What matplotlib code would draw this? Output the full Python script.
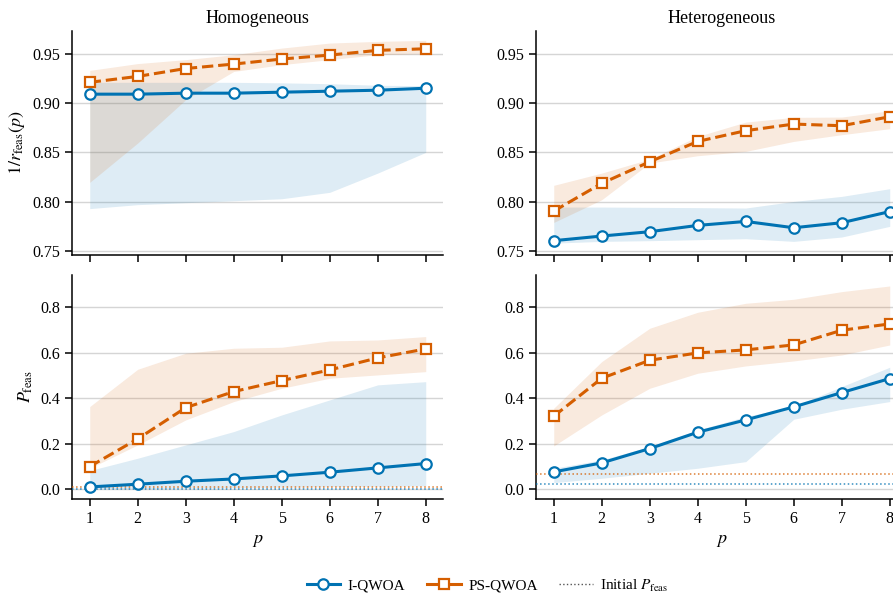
import matplotlib
matplotlib.use('Agg')
import matplotlib.pyplot as plt
from matplotlib.lines import Line2D
import numpy as np

plt.rcParams['font.family'] = 'Liberation Serif'
plt.rcParams['mathtext.fontset'] = 'stix'

p = np.arange(1, 9)

# ---------------- 1/r_feas(p) ----------------
hom_r_iq = [0.909, 0.909, 0.910, 0.910, 0.911, 0.912, 0.913, 0.915]
hom_r_iq_lo = [0.793, 0.797, 0.799, 0.801, 0.803, 0.8095, 0.829, 0.850]
hom_r_iq_hi = [0.921, 0.921, 0.921, 0.921, 0.9205, 0.9196, 0.918, 0.9176]
hom_r_ps = [0.921, 0.927, 0.935, 0.9395, 0.9446, 0.9486, 0.9534, 0.955]
hom_r_ps_lo = [0.8196, 0.8595, 0.9034, 0.932, 0.9389, 0.944, 0.949, 0.950]
hom_r_ps_hi = [0.9331, 0.940, 0.944, 0.949, 0.9557, 0.9608, 0.9625, 0.9635]

het_r_iq = [0.7605, 0.7652, 0.7696, 0.776, 0.780, 0.7736, 0.7787, 0.790]
het_r_iq_lo = [0.758, 0.7598, 0.7605, 0.7615, 0.7625, 0.7598, 0.7642, 0.775]
het_r_iq_hi = [0.7946, 0.7946, 0.7943, 0.794, 0.7936, 0.8003, 0.8054, 0.8132]
het_r_ps = [0.7905, 0.8186, 0.8405, 0.8611, 0.872, 0.8787, 0.877, 0.8861]
het_r_ps_lo = [0.779, 0.802, 0.8392, 0.8466, 0.851, 0.8611, 0.8679, 0.874]
het_r_ps_hi = [0.8166, 0.829, 0.8432, 0.8662, 0.8807, 0.8855, 0.8858, 0.8922]

# ---------------- P_feas ----------------
hom_p_iq = [0.010, 0.022, 0.035, 0.045, 0.0585, 0.0746, 0.0936, 0.1126]
hom_p_iq_lo = [0.001, 0.003, 0.005, 0.007, 0.009, 0.011, 0.013, 0.015]
hom_p_iq_hi = [0.082, 0.136, 0.1945, 0.253, 0.326, 0.392, 0.458, 0.472]
hom_p_ps = [0.0995, 0.221, 0.358, 0.4285, 0.4768, 0.5236, 0.5763, 0.6157]
hom_p_ps_lo = [0.092, 0.1945, 0.304, 0.3846, 0.443, 0.487, 0.5016, 0.516]
hom_p_ps_hi = [0.3627, 0.5265, 0.5968, 0.6187, 0.6231, 0.6508, 0.655, 0.670]

het_p_iq = [0.076, 0.1155, 0.1784, 0.2501, 0.3042, 0.3612, 0.4241, 0.4856]
het_p_iq_lo = [0.029, 0.048, 0.070, 0.092, 0.121, 0.307, 0.351, 0.3846]
het_p_iq_hi = [0.0921, 0.1287, 0.187, 0.260, 0.319, 0.3627, 0.4505, 0.5353]
het_p_ps = [0.3203, 0.487, 0.566, 0.5982, 0.6114, 0.6333, 0.6977, 0.7254]
het_p_ps_lo = [0.190, 0.326, 0.443, 0.509, 0.541, 0.563, 0.589, 0.633]
het_p_ps_hi = [0.3554, 0.5602, 0.7064, 0.7766, 0.816, 0.8336, 0.8672, 0.892]

# initial feasibility probability (p = 0)
hom_init = {'iq': 0.003, 'ps': 0.011}
het_init = {'iq': 0.0234, 'ps': 0.0673}

c_iq = '#0072B2'
c_ps = '#D55E00'

fig = plt.figure(figsize=(8.93, 5.93), dpi=100)
ax_tl = fig.add_axes([0.0806, 0.570, 0.4155, 0.3777])
ax_tr = fig.add_axes([0.6002, 0.570, 0.4155, 0.3777])
ax_bl = fig.add_axes([0.0806, 0.1585, 0.4155, 0.3777])
ax_br = fig.add_axes([0.6002, 0.1585, 0.4155, 0.3777])


def draw(ax, iq, iq_lo, iq_hi, ps, ps_lo, ps_hi):
    ax.fill_between(p, iq_lo, iq_hi, color=c_iq, alpha=0.13, lw=0)
    ax.fill_between(p, ps_lo, ps_hi, color=c_ps, alpha=0.13, lw=0)
    ax.plot(p, iq, color=c_iq, lw=2.2, ls='-', marker='o', ms=7.5,
            mfc='white', mec=c_iq, mew=1.6, zorder=4)
    ax.plot(p, ps, color=c_ps, lw=2.2, ls='--', marker='s', ms=7.5,
            mfc='white', mec=c_ps, mew=1.6, zorder=4)


draw(ax_tl, hom_r_iq, hom_r_iq_lo, hom_r_iq_hi, hom_r_ps, hom_r_ps_lo, hom_r_ps_hi)
draw(ax_tr, het_r_iq, het_r_iq_lo, het_r_iq_hi, het_r_ps, het_r_ps_lo, het_r_ps_hi)
draw(ax_bl, hom_p_iq, hom_p_iq_lo, hom_p_iq_hi, hom_p_ps, hom_p_ps_lo, hom_p_ps_hi)
draw(ax_br, het_p_iq, het_p_iq_lo, het_p_iq_hi, het_p_ps, het_p_ps_lo, het_p_ps_hi)

for ax, init in [(ax_bl, hom_init), (ax_br, het_init)]:
    ax.axhline(init['iq'], color=c_iq, ls=':', lw=1.1, alpha=0.8, zorder=3)
    ax.axhline(init['ps'], color=c_ps, ls=':', lw=1.1, alpha=0.8, zorder=3)

for ax in [ax_tl, ax_tr]:
    ax.set_ylim(0.746, 0.973)
    ax.set_yticks([0.75, 0.80, 0.85, 0.90, 0.95])
    ax.set_yticklabels(['0.75', '0.80', '0.85', '0.90', '0.95'])
    ax.set_xticklabels([])
for ax in [ax_bl, ax_br]:
    ax.set_ylim(-0.043, 0.94)
    ax.set_yticks([0.0, 0.2, 0.4, 0.6, 0.8])
    ax.set_yticklabels(['0.0', '0.2', '0.4', '0.6', '0.8'])
    ax.set_xlabel('$p$', fontsize=13)

for ax in [ax_tl, ax_tr, ax_bl, ax_br]:
    ax.set_xlim(0.63, 8.36)
    ax.set_xticks(p)
    if ax in (ax_bl, ax_br):
        ax.set_xticklabels([str(i) for i in p])
    ax.grid(axis='y', color='#d5d5d5', lw=1.0)
    ax.set_axisbelow(True)
    ax.spines['top'].set_visible(False)
    ax.spines['right'].set_visible(False)
    ax.spines['left'].set_linewidth(1.1)
    ax.spines['bottom'].set_linewidth(1.1)
    ax.tick_params(axis='both', labelsize=11.5, length=5, width=1.1, direction='out')

ax_tl.set_title('Homogeneous', fontsize=13)
ax_tr.set_title('Heterogeneous', fontsize=13)
ax_tl.set_ylabel(r'$1/r_{\mathrm{feas}}(p)$', fontsize=13)
ax_bl.set_ylabel(r'$P_{\mathrm{feas}}$', fontsize=13)

handles = [
    Line2D([], [], color=c_iq, lw=2.2, marker='o', ms=7.5, mfc='white', mec=c_iq, mew=1.6),
    Line2D([], [], color=c_ps, lw=2.2, marker='s', ms=7.5, mfc='white', mec=c_ps, mew=1.6),
    Line2D([], [], color='#555555', lw=1.0, ls=':'),
]
fig.legend(handles, ['I-QWOA', 'PS-QWOA', r'Initial $P_{\mathrm{feas}}$'],
           loc='center', bbox_to_anchor=(0.546, 0.012), ncol=3, frameon=False,
           fontsize=11, columnspacing=1.4, handlelength=2.2, handletextpad=0.5)

fig.savefig('out.png', dpi=100)
